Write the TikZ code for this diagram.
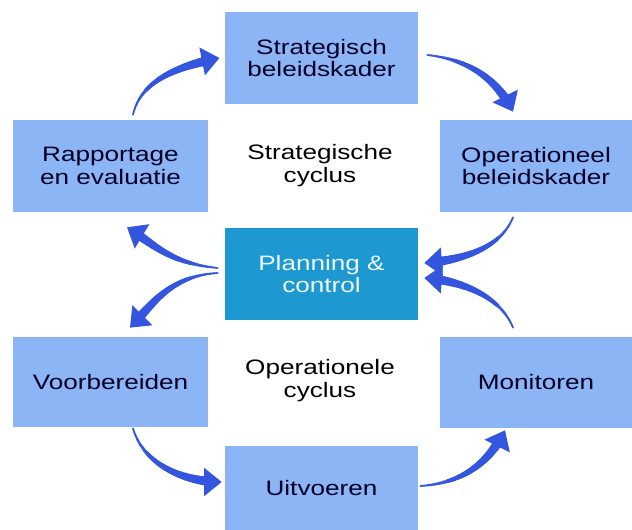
\documentclass[tikz,border=0pt]{standalone}
\usepackage{fontspec}
\setmainfont[FakeStretch=1.25]{Liberation Sans}
\usepackage{tikz}
\usetikzlibrary{arrows.meta}
\usetikzlibrary{decorations.markings}
\usetikzlibrary{positioning}
\definecolor{boxblue}{RGB}{139,181,245}
\definecolor{pcblue}{RGB}{30,152,208}
\definecolor{arrowblue}{RGB}{52,86,222}
\tikzset{stap/.style={rectangle, fill=boxblue, minimum width=3.86cm, minimum height=1.84cm, inner sep=0pt, align=center, text=black!85!blue, font=\fontsize{11.9}{13}\selectfont}}
\tikzset{kern/.style={stap, fill=pcblue, text=white!92!cyan}}
\tikzset{cyclus/.style={align=center, font=\fontsize{11.9}{13}\selectfont}}
\tikzset{flow/.style={line width=0.9pt, draw=arrowblue, -{Triangle[length=10pt,width=16pt]},
	postaction={decorate, decoration={markings, mark=between positions 0 and 0.92 step 0.8pt with {
		\pgfmathsetmacro\dikte{0.5+2.5*\pgfkeysvalueof{/pgf/decoration/mark info/distance from start}/\pgfdecoratedpathlength}
		\fill [arrowblue] (0,0) circle [radius=\dikte pt];}}}}}

\begin{document}
\begin{tikzpicture}[x=0.02cm, y=0.02cm]
	\useasboundingbox (0,0) rectangle (632,530);
	% de stappen
	\node [stap] (strat) at (321.5, 472) {Strategisch\\beleidskader};
	\node [stap, minimum width=3.9cm] (rapp) at (110.5, 364) {Rapportage\\en evaluatie};
	\node [stap] (oper) at (536, 364) {Operationeel\\beleidskader};
	\node [kern] (plan) at (321.5, 256) {Planning \&\\control};
	\node [stap, minimum width=3.9cm, minimum height=1.8cm] (voorb) at (110.5, 148) {Voorbereiden};
	\node [stap, minimum height=1.82cm] (monit) at (536, 147.5) {Monitoren};
	\node [stap, minimum height=1.68cm] (uitv) at (321.5, 42) {Uitvoeren};
	% de twee cycli
	\node [cyclus] (scyc) at (320, 364) {Strategische\\cyclus};
	\node [cyclus] (ocyc) at (320, 149) {Operationele\\cyclus};
	% strategische cyclus
	\draw [flow] ([shift={(22.5,5)}]rapp.north) .. controls +(8,35) and +(-40,-8) .. ([xshift=-3]strat.west);
	\draw [flow] ([shift={(9,3)}]strat.east) .. controls +(45,-5) and +(-15,30) .. ([shift={(-23,8)}]oper.north);
	\draw [flow] ([shift={(-23,-5)}]oper.south) .. controls +(-12,-30) and +(40,3) .. ([shift={(6,11)}]plan.east);
	\draw [flow] ([shift={(-7,6)}]plan.west) .. controls +(-50,5) and +(25,-15) .. ([shift={(16.5,-15)}]rapp.south);
	% operationele cyclus
	\draw [flow] ([shift={(-7,1)}]plan.west) .. controls +(-50,-3) and +(20,20) .. ([shift={(19.5,9)}]voorb.north);
	\draw [flow] ([shift={(22.5,-1)}]voorb.south) .. controls +(10,-35) and +(-40,0) .. ([shift={(-3,6)}]uitv.west);
	\draw [flow] ([shift={(2,2)}]uitv.east) .. controls +(45,3) and +(-15,-30) .. ([shift={(-31,-2)}]monit.south);
	\draw [flow] ([shift={(-23,9)}]monit.north) .. controls +(-12,30) and +(40,-3) .. ([shift={(6,-4)}]plan.east);
\end{tikzpicture}
\end{document}
